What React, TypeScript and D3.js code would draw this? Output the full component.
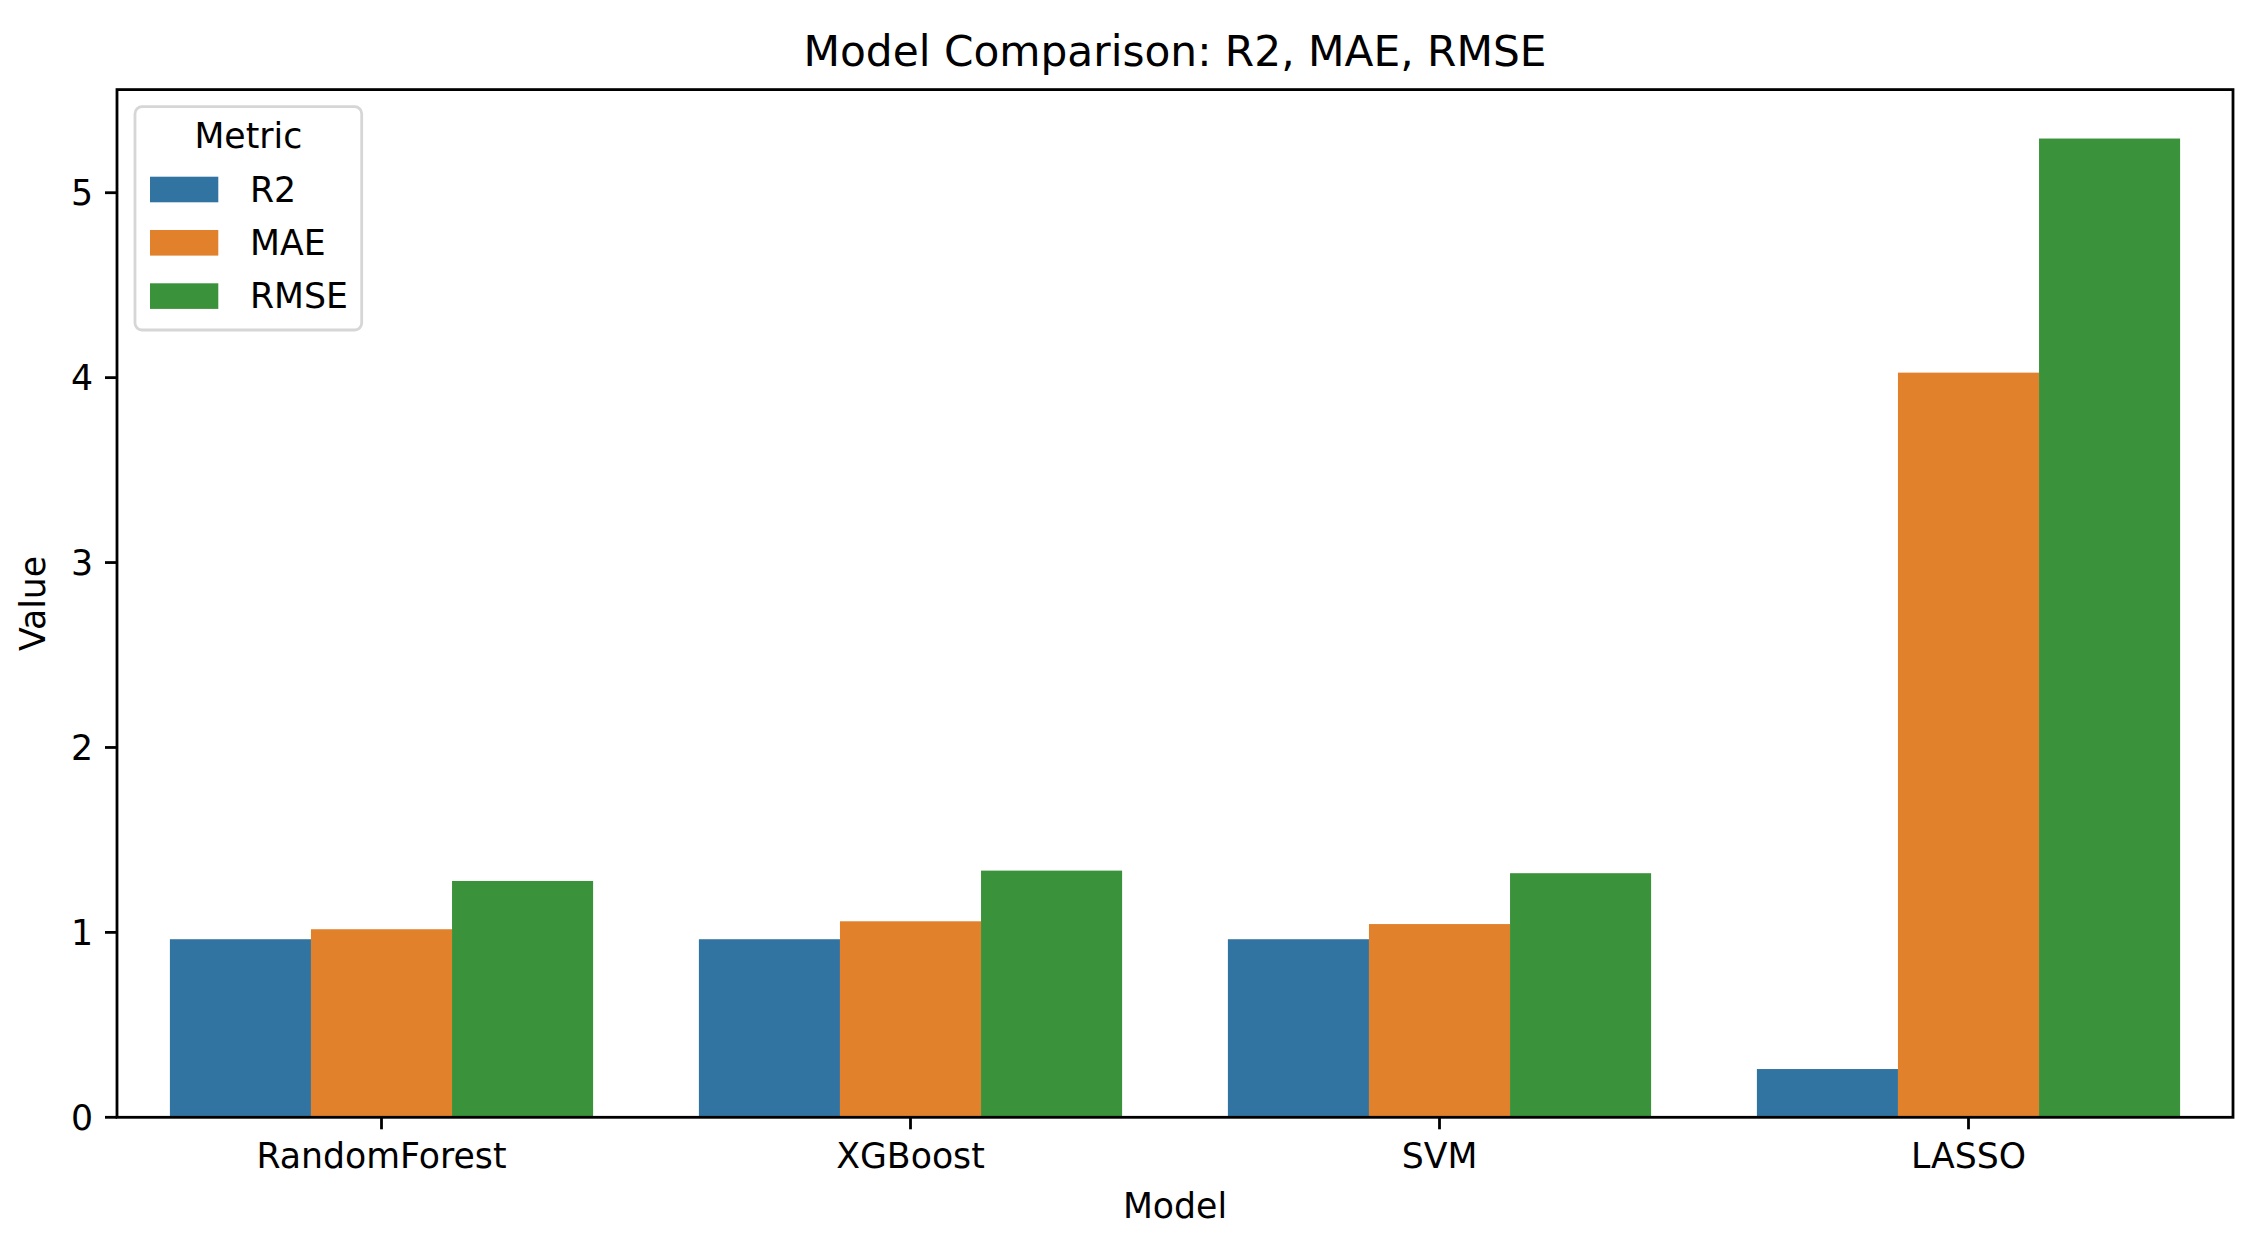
import React from "react";
import * as d3 from "d3";

const models = ["RandomForest", "XGBoost", "SVM", "LASSO"];
const metrics = ["R2", "MAE", "RMSE"];
const r2Values = [0.963, 0.963, 0.963, 0.261];
const maeValues = [1.017, 1.06, 1.045, 4.027];
const rmseValues = [1.278, 1.334, 1.32, 5.293];
const yTicks = [0, 1, 2, 3, 4, 5];
const colors = ["#3274a1", "#e1812c", "#3a923a"];

const W = 2249;
const H = 1241;
const left = 117;
const right = 2233;
const top = 89.6;
const bottom = 1117.3;
const FS = 34.7;
const FONT = "DejaVu Sans, sans-serif";

export default function App() {
  const seriesValues = [r2Values, maeValues, rmseValues];
  const rows = models.flatMap((m, i) =>
    metrics.map((k, j) => ({ model: m, metric: k, value: seriesValues[j][i], idx: j }))
  );
  const maxV = d3.max(rows, (d) => d.value) as number;
  const x = d3.scaleBand<string>().domain(models).range([left, right]).paddingInner(0.2).paddingOuter(0.1);
  const xi = d3.scaleBand<string>().domain(metrics).range([0, x.bandwidth()]).padding(0);
  const y = d3.scaleLinear().domain([0, maxV * 1.05]).range([bottom, top]);
  const tickLen = 12;
  const sw = 2.8;

  const legX = 135, legY = 106.7, legW = 226.7, legH = 223.3;
  const rowY = [176.7, 230, 283.3];

  return (
    <svg width={W} height={H} style={{ position: "absolute", left: 0, top: 0, background: "#fff" }} fontFamily={FONT}>
      <rect x={0} y={0} width={W} height={H} fill="#fff" />
      {rows.map((d, k) => (
        <rect
          key={k}
          x={(x(d.model) as number) + (xi(d.metric) as number)}
          y={y(d.value)}
          width={xi.bandwidth()}
          height={bottom - y(d.value)}
          fill={colors[d.idx]}
        />
      ))}
      {/* spines */}
      <rect x={left} y={top} width={right - left} height={bottom - top} fill="none" stroke="#000" strokeWidth={sw} />
      {/* y ticks */}
      {yTicks.map((t) => (
        <g key={t}>
          <line x1={left - tickLen} x2={left} y1={y(t)} y2={y(t)} stroke="#000" strokeWidth={sw} />
          <text x={left - tickLen - 12} y={y(t)} dy="0.36em" textAnchor="end" fontSize={FS} fill="#000">
            {t}
          </text>
        </g>
      ))}
      {/* x ticks */}
      {models.map((m) => {
        const cx = (x(m) as number) + x.bandwidth() / 2;
        return (
          <g key={m}>
            <line x1={cx} x2={cx} y1={bottom} y2={bottom + tickLen} stroke="#000" strokeWidth={sw} />
            <text x={cx} y={1168} textAnchor="middle" fontSize={FS} fill="#000">
              {m}
            </text>
          </g>
        );
      })}
      <text x={(left + right) / 2} y={1218} textAnchor="middle" fontSize={FS} fill="#000">
        Model
      </text>
      <text
        transform={`translate(45,${(top + bottom) / 2}) rotate(-90)`}
        textAnchor="middle"
        fontSize={FS}
        fill="#000"
      >
        Value
      </text>
      <text x={(left + right) / 2} y={66} textAnchor="middle" fontSize={42.3} fill="#000">
        Model Comparison: R2, MAE, RMSE
      </text>
      {/* legend */}
      <rect x={legX} y={legY} width={legW} height={legH} rx={7} ry={7} fill="#fff" fillOpacity={0.8} stroke="#d6d6d6" strokeWidth={2.8} />
      <text x={legX + legW / 2} y={148.3} textAnchor="middle" fontSize={FS} fill="#000">
        Metric
      </text>
      {metrics.map((m, j) => (
        <g key={m}>
          <rect x={150} y={rowY[j]} width={68.3} height={25.6} fill={colors[j]} />
          <text x={250} y={rowY[j] + 25} fontSize={FS} fill="#000">
            {m}
          </text>
        </g>
      ))}
    </svg>
  );
}
